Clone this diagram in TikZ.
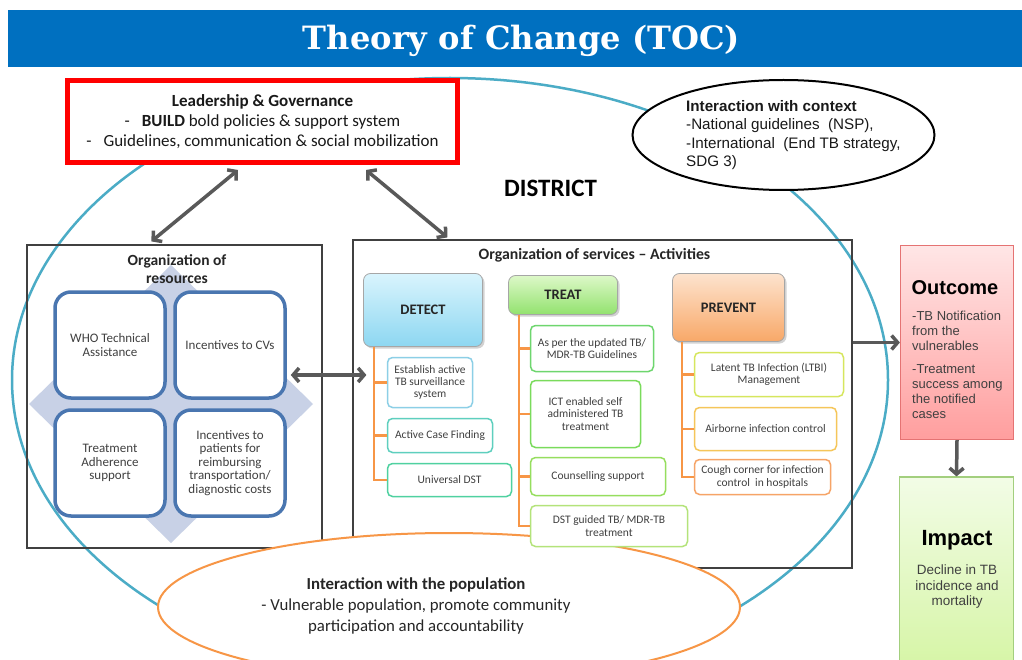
\documentclass[tikz,border=0pt]{standalone}
\usepackage{fontspec}
\setmainfont{Carlito}
\newfontfamily\arialf{Liberation Sans}
\newfontfamily\titlef{DejaVu Serif}
\usetikzlibrary{arrows.meta,shapes.geometric,calc,shadows}
\newcommand\fsz[2]{\fontsize{#1}{#2}\selectfont}
\definecolor{titleblue}{HTML}{0070C0}
\definecolor{blueE}{HTML}{4BACC6}
\definecolor{orangeE}{HTML}{F79646}
\definecolor{boxgray}{HTML}{404040}
\definecolor{sqblue}{HTML}{4A76B0}
\definecolor{diamfill}{HTML}{C8D1E6}
\definecolor{txtgray}{HTML}{404040}
\definecolor{arrgray}{HTML}{595959}
\definecolor{detT}{HTML}{D9F4FD}
\definecolor{detB}{HTML}{8DD7F1}
\definecolor{trT}{HTML}{DDF8C8}
\definecolor{trB}{HTML}{92E26E}
\definecolor{prT}{HTML}{FDE3CE}
\definecolor{prB}{HTML}{F8A868}
\definecolor{hdborder}{HTML}{A6A6A6}
\definecolor{cA}{HTML}{8CCFE6}
\definecolor{cB}{HTML}{5ECFBE}
\definecolor{cC}{HTML}{4FD1A0}
\definecolor{tA}{HTML}{6ED66E}
\definecolor{tB}{HTML}{7ADB5C}
\definecolor{tC}{HTML}{96DE5E}
\definecolor{tD}{HTML}{B4E37A}
\definecolor{pA}{HTML}{D6E65E}
\definecolor{pB}{HTML}{F5C65A}
\definecolor{pC}{HTML}{F6A467}
\definecolor{outT}{HTML}{FFE6E6}
\definecolor{outB}{HTML}{FF9E9E}
\definecolor{outBd}{HTML}{E57373}
\definecolor{impT}{HTML}{F2FCE6}
\definecolor{impB}{HTML}{D6F5A6}
\definecolor{impBd}{HTML}{A3CF7E}
\begin{document}
\begin{tikzpicture}[x=1pt,y=-1pt,
  sqbox/.style={draw=sqblue, line width=3.5, fill=white, rounded corners=16,
    minimum width=110, minimum height=106, align=center, text=txtgray,
    font=\fsz{13}{13.5}, inner sep=2},
  hdbox/.style={draw=hdborder, line width=0.8, rounded corners=7,
    font=\bfseries\fsz{14.5}{16}, text=black!85,
    drop shadow={opacity=0.35, shadow xshift=2pt, shadow yshift=-2pt}},
  leafbox/.style={draw=#1, fill=white, rounded corners=5, line width=1.5,
    align=center, text=txtgray, font=\fsz{11.5}{12.3}, inner sep=1},
  treeln/.style={draw=orangeE, line width=2.5},
  dblarr/.style={draw=arrgray, line width=3.5,
    {Straight Barb[length=6pt,width=14pt]}-{Straight Barb[length=6pt,width=14pt]}},
  onearr/.style={draw=arrgray, line width=3.5, -{Straight Barb[length=6pt,width=14pt]}},
  frame/.style={draw=boxgray, line width=1.2, inner sep=0}
]
\useasboundingbox (0,0) rectangle (1022,660);
\begin{scope}
\clip (0,0) rectangle (1022,660);
\fill[white] (0,0) rectangle (1022,660);
% title bar
\node[fill=titleblue, minimum width=1014, minimum height=57, inner sep=0] (bar) at (515,38.5) {};
\node[text=white, inner sep=0] (ttl) at (521.5,41) {\resizebox{437pt}{!}{\titlef\bfseries\fsz{28}{32}Theory of Change (TOC)}};
% district ellipse
\draw[blueE, line width=2.5] (450,380) ellipse [x radius=438, y radius=302];
% leadership box
\node[draw=red, line width=5, fill=white, minimum width=390, minimum height=82,
  align=center, font=\fsz{17}{20}, text=black!90] (lg) at (262.5,121.5)
  {\textbf{Leadership \& Governance}\\-\hspace{12pt}\textbf{BUILD} bold policies \& support system\\-\hspace{12pt}Guidelines, communication \& social mobilization};
% context ellipse
\node[ellipse, draw=black, line width=2, fill=white, minimum width=302, minimum height=110, inner sep=0] (ctx) at (783.5,135) {};
\node[anchor=west, align=left, font=\arialf\fsz{15.2}{18.5}, text=black!90, inner sep=0] (ctxt) at (686,135)
  {\textbf{Interaction with context}\\-National guidelines~~(NSP),\\-International~~(End TB strategy,\\SDG 3)};
% district label
\node[anchor=west, font=\bfseries\fsz{25}{30}, inner sep=0] (dist) at (504,188) {DISTRICT};
% frames
\node[frame, minimum width=295, minimum height=303] (res) at (174.5,396.5) {};
\node[frame, minimum width=499, minimum height=328] (svc) at (602.5,404) {};
% population ellipse
\node[ellipse, draw=orangeE, line width=2, fill=white, minimum width=582, minimum height=148, inner sep=0] (pop) at (449,607) {};
\node[align=center, font=\fsz{16.8}{21}, text=black!85, inner sep=0] (popt) at (416,606)
  {\textbf{Interaction with the population}\\- Vulnerable population, promote community\\participation and accountability};
% resources
\fill[diamfill] (171,265) -- (313,404) -- (171,543) -- (29,404) -- cycle;
\node[font=\bfseries\fsz{15.5}{18}, align=center, text=black!85, inner sep=0] (rest) at (177,269) {Organization of\\resources};
\node[sqbox] (s1) at (110,345) {WHO Technical\\Assistance};
\node[sqbox] (s2) at (230,345) {Incentives to CVs};
\node[sqbox] (s3) at (110,463) {Treatment\\Adherence\\support};
\node[sqbox] (s4) at (230,463) {Incentives to\\patients for\\reimbursing\\transportation/\\diagnostic costs};
% services
\node[font=\bfseries\fsz{15.8}{18}, text=black!85, inner sep=0] (svct) at (594.5,255) {Organization of services -- Activities};
\node[hdbox, top color=detT, bottom color=detB, minimum width=119, minimum height=73] (det) at (423,310) {DETECT};
\node[hdbox, top color=trT, bottom color=trB, minimum width=109, minimum height=39] (tr) at (563,295) {TREAT};
\node[hdbox, top color=prT, bottom color=prB, minimum width=112, minimum height=68] (pr) at (728.5,307.5) {PREVENT};
% leaves
\node[leafbox=cA, minimum width=85, minimum height=50] (d1) at (430,382.5) {Establish active\\TB surveillance\\system};
\node[leafbox=cB, minimum width=105, minimum height=34] (d2) at (440,435.5) {Active Case Finding};
\node[leafbox=cC, minimum width=124, minimum height=33] (d3) at (449.5,480) {Universal DST};
\node[leafbox=tA, minimum width=123, minimum height=46] (t1) at (592,348.5) {As per the updated TB/\\MDR-TB Guidelines};
\node[leafbox=tB, minimum width=110, minimum height=67] (t2) at (585.5,414) {ICT enabled self\\administered TB\\treatment};
\node[leafbox=tC, minimum width=135, minimum height=38] (t3) at (598,476.5) {Counselling support};
\node[leafbox=tD, minimum width=157, minimum height=41] (t4) at (609,526) {DST guided TB/ MDR-TB\\treatment};
\node[leafbox=pA, minimum width=149, minimum height=44] (p1) at (769,374.5) {Latent TB Infection (LTBI)\\Management};
\node[leafbox=pB, minimum width=142, minimum height=43] (p2) at (765.5,429) {Airborne infection control};
\node[leafbox=pC, minimum width=136, minimum height=35] (p3) at (762.5,477) {Cough corner for infection\\control~ in hospitals};
% tree lines
\draw[treeln] ($(det.south west)+(11,0)$) |- (d1.west);
\draw[treeln] ($(det.south west)+(11,0)$) |- (d2.west);
\draw[treeln] ($(det.south west)+(11,0)$) |- (d3.west);
\draw[treeln] ($(tr.south west)+(11,0)$) |- (t1.west);
\draw[treeln] ($(tr.south west)+(11,0)$) |- (t2.west);
\draw[treeln] ($(tr.south west)+(11,0)$) |- (t3.west);
\draw[treeln] ($(tr.south west)+(11,0)$) |- (t4.west);
\draw[treeln] ($(pr.south west)+(10,0)$) |- (p1.west);
\draw[treeln] ($(pr.south west)+(10,0)$) |- (p2.west);
\draw[treeln] ($(pr.south west)+(10,0)$) |- (p3.west);
% outcome / impact
\node[draw=outBd, line width=1.2, top color=outT, bottom color=outB, minimum width=113, minimum height=194] (out) at (957,342.5) {};
\node[font=\arialf\bfseries\fsz{20}{24}, inner sep=0] (outh) at (955,288) {Outcome};
\node[anchor=north west, align=left, font=\arialf\fsz{13}{15}, text=txtgray, inner sep=0] (outt) at (912,311)
  {-TB Notification\\from the\\vulnerables\\[8pt]-Treatment\\success among\\the notified\\cases};
\node[draw=impBd, line width=1.2, top color=impT, bottom color=impB, minimum width=114, minimum height=190] (imp) at (956.5,572) {};
\node[font=\arialf\bfseries\fsz{22}{26}, inner sep=0] (imph) at (957,540) {Impact};
\node[align=center, font=\arialf\fsz{13.5}{15.5}, text=txtgray, inner sep=0] (impt) at (957,587)
  {Decline in TB\\incidence and\\mortality};
% arrows
\draw[dblarr] ($(lg.south west)+(173,5)$) -- ($(res.north west)+(125,-3)$);
\draw[dblarr] ($(lg.south east)+(-94,5)$) -- ($(svc.north west)+(95,-2)$);
\draw[dblarr] ($(s2.east)+(4,30)$) -- ($(svc.west)+(14,-29)$);
\draw[onearr] (svc.east |- out.west) -- (out.west);
\draw[onearr] (out.south) -- (imp.north);
\end{scope}
\end{tikzpicture}
\end{document}
